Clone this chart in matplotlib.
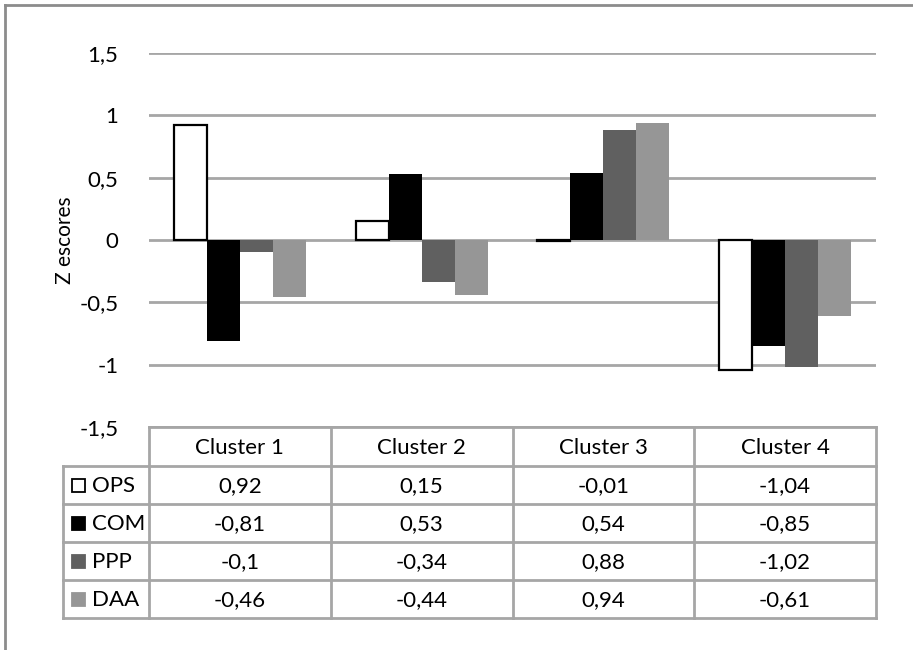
import matplotlib
matplotlib.use('Agg')
import matplotlib.pyplot as plt
from matplotlib.patches import Rectangle

plt.rcParams['font.family'] = ['Lato', 'DejaVu Sans']

# data
clusters = ['Cluster 1', 'Cluster 2', 'Cluster 3', 'Cluster 4']
series = ['OPS', 'COM', 'PPP', 'DAA']
ops = [0.92, 0.15, -0.01, -1.04]
com = [-0.81, 0.53, 0.54, -0.85]
ppp = [-0.10, -0.34, 0.88, -1.02]
daa = [-0.46, -0.44, 0.94, -0.61]
yticks = [-1.5, -1, -0.5, 0, 0.5, 1, 1.5]

values = [ops, com, ppp, daa]
faces = ['white', 'black', '#606060', '#969696']
edges = ['black', 'black', '#606060', '#969696']

W, H = 913, 650
fig = plt.figure(figsize=(W / 100, H / 100), dpi=100)

# pixel layout
px_l, px_r = 149, 876
px_top, px_bot = 53, 427
fs = 16

ax = fig.add_axes([px_l / W, 1 - px_bot / H, (px_r - px_l) / W, (px_bot - px_top) / H])
ax.set_xlim(-0.5, len(clusters) - 0.5)
ax.set_ylim(-1.5, 1.5)
for s in ax.spines.values():
    s.set_visible(False)
ax.set_xticks([])
ax.set_yticks(yticks)
ax.set_yticklabels([('%g' % t).replace('.', ',') for t in yticks], fontsize=fs)
ax.tick_params(axis='y', length=0, pad=22)
ax.set_ylabel('Z escores', fontsize=fs - 1, labelpad=3)
for t in yticks:
    ax.axhline(t, color='#a6a6a6', lw=2, zorder=0)

bw = 1 / 5.5
for j, vals in enumerate(values):
    xs = [i + (j - 1.5) * bw for i in range(len(clusters))]
    ax.bar(xs, vals, width=bw, color=faces[j], edgecolor=edges[j],
           linewidth=1.6 if j == 0 else 0, zorder=2)

# overlay for table and frame, pixel coordinates
ov = fig.add_axes([0, 0, 1, 1], facecolor='none')
ov.set_xlim(0, W)
ov.set_ylim(H, 0)
ov.axis('off')

# outer frame
ov.plot([5, W], [5, 5], color='#8c8c8c', lw=2)
ov.plot([5, 5], [5, H], color='#8c8c8c', lw=2)

grid_c = '#a6a6a6'
leg_l = 63
row_y = [427, 466, 504, 542, 580, 618]
col_w = (px_r - px_l) / len(clusters)
col_x = [px_l + k * col_w for k in range(len(clusters) + 1)]

# horizontal lines
ov.plot([px_l, px_r], [row_y[0], row_y[0]], color=grid_c, lw=2)
for y in row_y[1:]:
    ov.plot([leg_l, px_r], [y, y], color=grid_c, lw=2)
# vertical lines
for x in col_x:
    ov.plot([x, x], [row_y[0], row_y[-1]], color=grid_c, lw=2)
ov.plot([leg_l, leg_l], [row_y[1], row_y[-1]], color=grid_c, lw=2)

# header
for k, name in enumerate(clusters):
    ov.text((col_x[k] + col_x[k + 1]) / 2, (row_y[0] + row_y[1]) / 2 + 1, name,
            ha='center', va='center', fontsize=fs)

# rows
for j, name in enumerate(series):
    yc = (row_y[j + 1] + row_y[j + 2]) / 2
    ov.add_patch(Rectangle((72, yc - 6.5), 13, 13, facecolor=faces[j],
                           edgecolor=edges[j], lw=1.3))
    ov.text(92, yc + 1, name, ha='left', va='center', fontsize=fs)
    for k in range(len(clusters)):
        txt = ('%g' % values[j][k]).replace('.', ',')
        ov.text((col_x[k] + col_x[k + 1]) / 2, yc + 1, txt,
                ha='center', va='center', fontsize=fs)

fig.savefig('out.png', dpi=100, facecolor='white')
